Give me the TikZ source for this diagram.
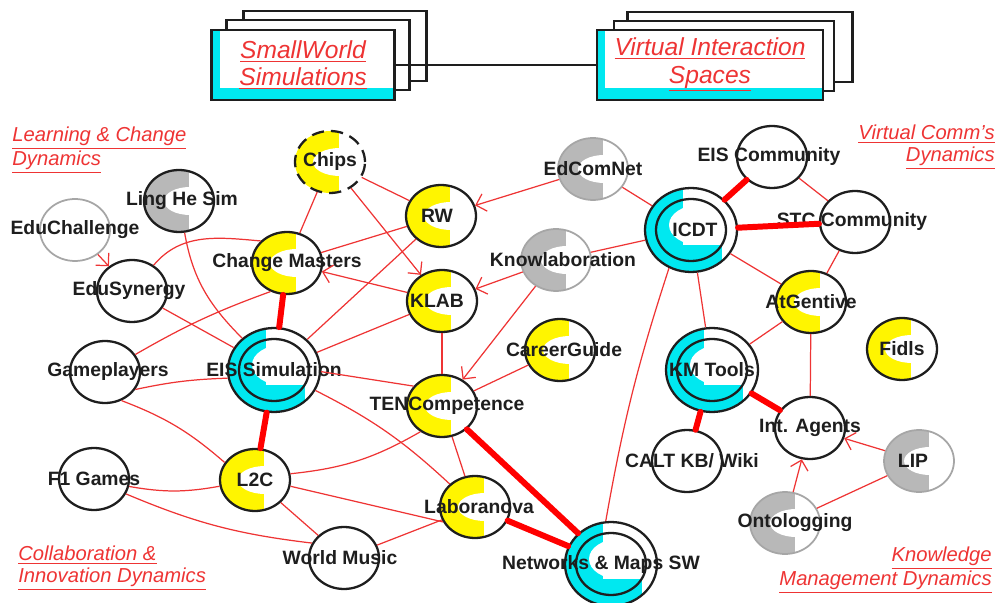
\documentclass[tikz,border=0pt]{standalone}
\usepackage{fontspec}
\setmainfont{Liberation Sans}
\usepackage{xcolor}
\usetikzlibrary{shapes.geometric, arrows.meta}

\definecolor{linkred}{RGB}{238,52,52}
\definecolor{penblack}{RGB}{30,30,30}
\definecolor{aqua}{RGB}{0,232,240}
\definecolor{marker}{RGB}{255,245,0}

\begin{document}
\begin{tikzpicture}[x=0.02cm, y=0.02cm, >={Straight Barb[length=1.8mm, width=3.6mm]},
    every label/.style={font=\bfseries\fontsize{11}{13}\selectfont, text=penblack}]
    \tikzstyle{bubble} = [ellipse, draw=penblack, line width=1.3pt, fill=white, minimum width=1.4cm, minimum height=1.24cm, inner sep=0pt]
    \tikzstyle{yellowc} = [bubble, path picture={
        \fill[marker] (path picture bounding box.south west) rectangle ([xshift=0.18cm]path picture bounding box.north);
        \fill[white] ([xshift=0.2cm]path picture bounding box.center) ellipse [x radius=0.54cm, y radius=0.28cm];}]
    \tikzstyle{grayc} = [bubble, path picture={
        \fill[black!28] (path picture bounding box.south west) rectangle ([xshift=0.2cm]path picture bounding box.north);
        \fill[white] ([xshift=0.22cm]path picture bounding box.center) ellipse [x radius=0.52cm, y radius=0.28cm];}]
    \tikzstyle{fadedc} = [grayc, draw=black!35, line width=1pt]
    \tikzstyle{faint} = [bubble, draw=black!35, line width=1pt]
    \tikzstyle{core} = [bubble, minimum width=1.84cm, minimum height=1.68cm, path picture={
        \fill[aqua] (path picture bounding box.south west) rectangle ([xshift=-0.16cm]path picture bounding box.north);
        \fill[aqua] (path picture bounding box.south west) rectangle ([xshift=-0.3cm, yshift=-0.3cm]path picture bounding box.east);
        \fill[white] ([xshift=0.16cm, yshift=0.1cm]path picture bounding box.center) ellipse [x radius=0.6cm, y radius=0.4cm];
        \draw[penblack, line width=1.3pt] (path picture bounding box.center) ellipse [x radius=0.7cm, y radius=0.62cm];}]
    \tikzstyle{sheet} = [rectangle, draw=penblack, line width=1.4pt, fill=white, minimum width=3.66cm, minimum height=1.4cm]
    \tikzstyle{frontsheet} = [sheet, text=linkred, font=\itshape\fontsize{14}{15.5}\selectfont, align=center, path picture={
        \fill[aqua] (path picture bounding box.south west) rectangle (path picture bounding box.north east);
        \fill[white] ([xshift=0.16cm, yshift=0.24cm]path picture bounding box.south west) rectangle (path picture bounding box.north east);}]
    \tikzstyle{theme} = [text=linkred, inner sep=0pt, font=\itshape\fontsize{11.5}{12.5}\selectfont]
    \tikzstyle{link} = [linkred, line width=0.7pt]
    \tikzstyle{strong} = [red, line width=3.4pt, line cap=round]

    \useasboundingbox (0,0) rectangle (1000,602);

    % Simulation and interaction spaces
    \node [sheet] (swback2) at (335,556) {};
    \node [sheet] (swback1) at (318,547) {};
    \node [frontsheet] (swsheet) at (303,537) {\underline{SmallWorld}\\\underline{Simulations}};
    \node [sheet, minimum width=4.5cm] (visback2) at (740,555) {};
    \node [sheet, minimum width=4.4cm] (visback1) at (724,546) {};
    \node [frontsheet, minimum width=4.52cm] (visheet) at (710,537) {\underline{Virtual Interaction}\\\underline{Spaces}};
    \draw [penblack, line width=1.2pt] (swsheet.east) -- (visheet.west);

    % Dynamics themes
    \node [theme, anchor=west, align=left] (learning) at (12,452) {\underline{Learning \& Change}\\\underline{Dynamics}};
    \node [theme, anchor=east, align=right] (virtcomm) at (995,455) {\underline{Virtual Comm's}\\\underline{Dynamics}};
    \node [theme, anchor=west, align=left] (collab) at (18,34) {\underline{Collaboration \&}\\\underline{Innovation Dynamics}};
    \node [theme, anchor=east, align=right] (knowmgmt) at (992,32) {\underline{Knowledge}\\\underline{Management Dynamics}};

    % Learning and change projects
    \node [yellowc, dashed, dash pattern=on 7pt off 4pt] (chips) at (330,440) [label=center:Chips] {};
    \node [grayc] (ling) at (179,401) [label={[xshift=0.06cm]center:Ling He Sim}] {};
    \node [faint] (educh) at (75,372) [label=center:EduChallenge] {};
    \node [bubble] (edusyn) at (132,311) [label={[xshift=-0.06cm]center:EduSynergy}] {};
    \node [yellowc] (chmast) at (287,339) [label=center:Change Masters] {};
    \node [yellowc] (rw) at (441,386) [label={[xshift=-0.08cm]center:RW}] {};
    \node [yellowc] (klab) at (442,301) [label={[xshift=-0.1cm]center:KLAB}] {};
    \node [fadedc] (edcom) at (593,433) [label=center:EdComNet] {};
    \node [fadedc] (knowl) at (556,342) [label={[xshift=0.14cm]center:Knowlaboration}] {};

    % Collaboration and innovation projects
    \node [bubble] (gamepl) at (105,230) [label={[xshift=0.06cm]center:Gameplayers}] {};
    \node [core] (eissim) at (274,232) [label=center:EIS Simulation] {};
    \node [yellowc] (ltwoc) at (255,122) [label=center:L2C] {};
    \node [bubble] (fone) at (94,123) [label=center:F1 Games] {};
    \node [bubble] (wmusic) at (344,44) [label={[xshift=-0.08cm]center:World Music}] {};
    \node [yellowc] (career) at (560,252) [label={[xshift=0.08cm]center:CareerGuide}] {};
    \node [yellowc] (tenc) at (442,196) [label={[xshift=0.1cm]center:TENCompetence}] {};
    \node [yellowc] (labo) at (475,95) [label={[xshift=0.08cm]center:Laboranova}] {};
    \node [core] (netmaps) at (611,38) [label={[xshift=-0.2cm]center:Networks \& Maps SW}] {};

    % Virtual communities
    \node [core] (icdt) at (691,372) [label={[xshift=0.08cm]center:ICDT}] {};
    \node [bubble] (eiscomm) at (772,445) [label={[xshift=-0.06cm]center:EIS Community}] {};
    \node [bubble] (stc) at (855,380) [label={[xshift=-0.06cm]center:STC Community}] {};
    \node [yellowc] (atgent) at (811,300) [label=center:AtGentive] {};
    \node [yellowc] (fidls) at (902,253) [label=center:Fidls] {};

    % Knowledge management
    \node [core] (kmtools) at (712,232) [label=center:KM Tools] {};
    \node [bubble] (intag) at (810,174) [label=center:Int. Agents] {};
    \node [bubble] (calt) at (687,141) [label={[xshift=0.1cm]center:CALT KB/ Wiki}] {};
    \node [fadedc] (lip) at (919,141) [label={[xshift=-0.12cm]center:LIP}] {};
    \node [fadedc] (onto) at (785,79) [label={[xshift=0.2cm]center:Ontologging}] {};

    % Connections
    \draw [link] (chips) -- (rw);
    \draw [link] (chips) -- (chmast);
    \draw [link, ->] (chips) -- (klab);
    \draw [link] (ling) to[out=-80, in=135] (eissim);
    \draw [link] (edusyn.50) to[out=50, in=175] (chmast.140);
    \draw [link] (chmast) -- (rw);
    \draw [link] (edusyn) -- (eissim);
    \draw [link] (gamepl.30) to[bend left=5] (chmast.240);
    \draw [link] (gamepl.-30) to[bend left=5] (eissim.190);
    \draw [link] (gamepl.-60) to[bend left=10] (ltwoc.150);
    \draw [link] (fone.-12) to[bend right=10] (ltwoc.190);
    \draw [link] (fone.-25) to[bend right=8] (wmusic.155);
    \draw [link] (ltwoc.10) to[bend right=12] (tenc.230);
    \draw [link] (ltwoc.-10) -- (labo.205);
    \draw [link] (ltwoc) -- (wmusic);
    \draw [link] (wmusic) -- (labo);
    \draw [link] (eissim) to[bend left=8] (labo);
    \draw [link] (eissim) -- (rw);
    \draw [link] (eissim) -- (klab);
    \draw [link] (eissim.-2) -- (tenc.145);
    \draw [link] (klab) -- (tenc);
    \draw [link, ->] (klab) -- (chmast);
    \draw [link] (tenc) -- (career);
    \draw [link] (tenc) -- (labo);
    \draw [link, ->] (edcom) -- (rw);
    \draw [link, ->] (knowl) -- (klab);
    \draw [link, ->] (knowl) -- (tenc);
    \draw [link, ->] (educh) -- (edusyn);
    \draw [link] (edcom) -- (icdt);
    \draw [link] (knowl) -- (icdt);
    \draw [link] (netmaps.97) to[bend left=4] (icdt.240);
    \draw [link] (icdt) -- (kmtools);
    \draw [link] (icdt) -- (atgent);
    \draw [link] (eiscomm) -- (stc);
    \draw [link] (stc) -- (atgent);
    \draw [link] (atgent) -- (kmtools);
    \draw [link] (atgent) -- (intag);
    \draw [link, ->] (lip) -- (intag);
    \draw [link, ->] (onto) -- (intag);
    \draw [link] (lip) -- (onto);

    % Strong ties
    \draw [strong] (chmast) -- (eissim);
    \draw [strong] (eissim) -- (ltwoc);
    \draw [strong] (tenc) -- (netmaps);
    \draw [strong] (labo) -- (netmaps);
    \draw [strong] (icdt) -- (eiscomm);
    \draw [strong] (icdt) -- (stc);
    \draw [strong] (kmtools) -- (calt);
    \draw [strong] (kmtools) -- (intag);
\end{tikzpicture}
\end{document}
